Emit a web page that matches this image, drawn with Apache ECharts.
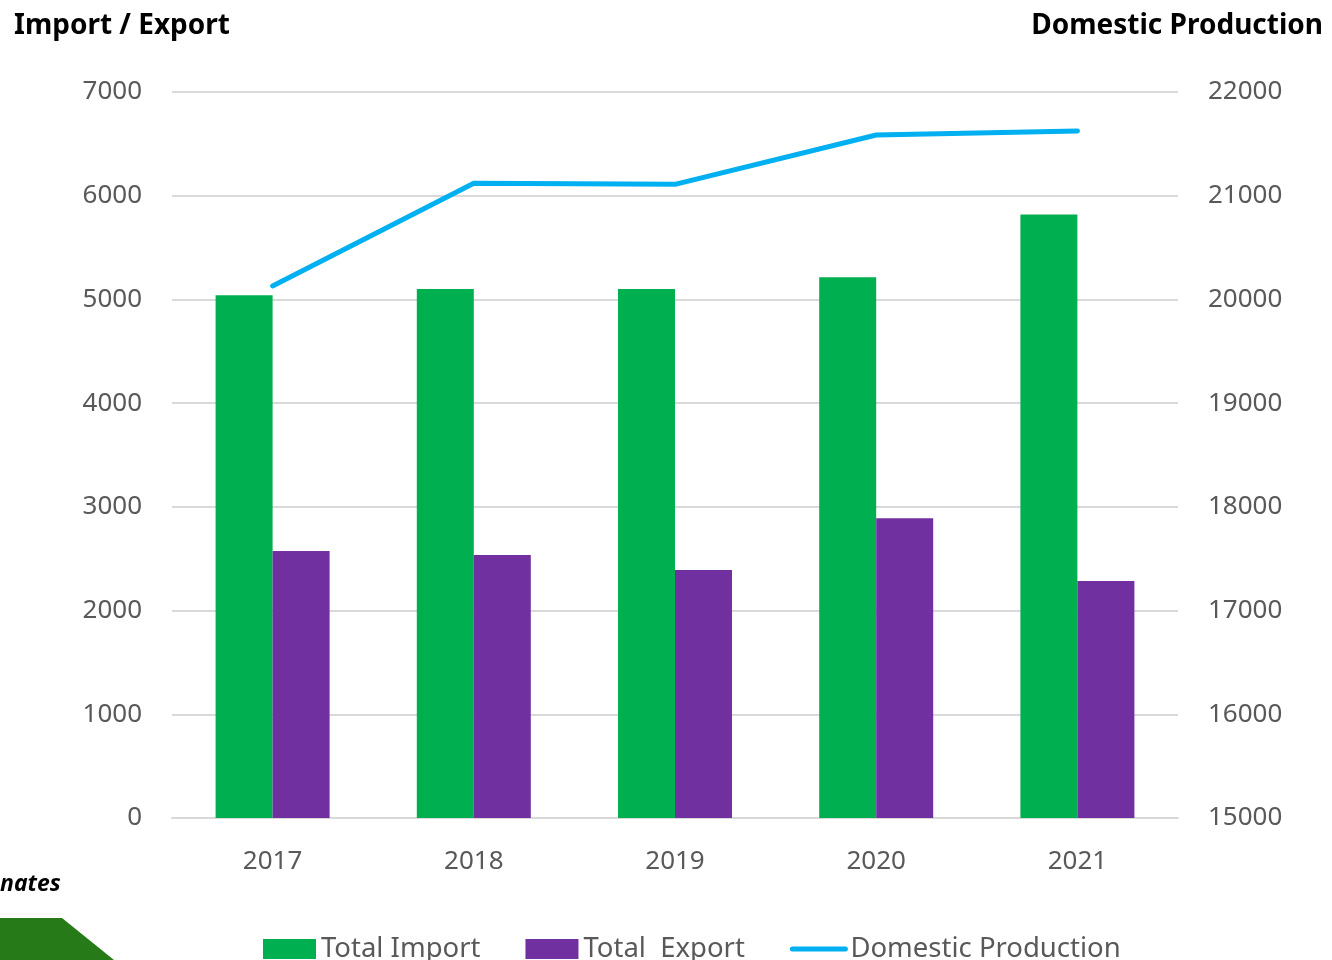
<!DOCTYPE html>
<html>
<head>
<meta charset="utf-8">
<script src="https://cdn.jsdelivr.net/npm/echarts@6/dist/echarts.min.js"></script>
<style>
  html, body { margin: 0; padding: 0; background: #fff; }
  #chart { width: 1332px; height: 960px; }
</style>
</head>
<body>
<div id="chart"></div>
<script>
// data
const years = ['2017', '2018', '2019', '2020', '2021'];
const totalImport = [5040, 5100, 5100, 5215, 5820];
const totalExport = [2575, 2535, 2390, 2890, 2285];
const domesticProduction = [20130, 21120, 21110, 21585, 21625];

const leftTicks = { min: 0, max: 7000, interval: 1000 };
const rightTicks = { min: 15000, max: 22000, interval: 1000 };

const labelFont = 'Noto Sans';
const labelColor = '#595959';

let myChart = echarts.init(document.getElementById('chart'));
let option = {
    backgroundColor: '#fff',
    animation: false,
    title: [
        {
            text: 'Import / Export',
            left: 9,
            top: 7,
            textStyle: { fontFamily: labelFont, fontSize: 28, fontWeight: 'bold', color: '#000' }
        },
        {
            text: 'Domestic Production',
            right: 4,
            top: 7,
            textStyle: { fontFamily: labelFont, fontSize: 28, fontWeight: 'bold', color: '#000' }
        }
    ],
    grid: {
        left: 172,
        right: 154,
        top: 92,
        bottom: 142,
        containLabel: false
    },
    legend: {
        left: 258,
        top: 930,
        itemWidth: 53,
        itemHeight: 20,
        itemGap: 45,
        itemTextGap: 4,
        textStyle: { fontFamily: labelFont, fontSize: 27.5, color: labelColor },
        data: [
            { name: 'Total Import', icon: 'rect' },
            { name: 'Total  Export', icon: 'rect' },
            {
                name: 'Domestic Production',
                itemStyle: { opacity: 0 },
                lineStyle: { width: 5, cap: 'round', color: '#00B0F0' }
            }
        ]
    },
    xAxis: {
        type: 'category',
        data: years,
        axisTick: { show: false },
        axisLine: { lineStyle: { color: '#D9D9D9', width: 2 } },
        axisLabel: { fontFamily: labelFont, fontSize: 26, color: labelColor, margin: 31 }
    },
    yAxis: [
        {
            type: 'value',
            min: leftTicks.min,
            max: leftTicks.max,
            interval: leftTicks.interval,
            axisLine: { show: false },
            axisTick: { show: false },
            splitLine: { lineStyle: { color: '#D9D9D9', width: 2 } },
            axisLabel: {
                fontFamily: labelFont, fontSize: 26, color: labelColor, margin: 30,
                padding: [4, 0, 0, 0],
                formatter: (v) => String(v)
            }
        },
        {
            type: 'value',
            min: rightTicks.min,
            max: rightTicks.max,
            interval: rightTicks.interval,
            axisLine: { show: false },
            axisTick: { show: false },
            splitLine: { show: false },
            axisLabel: {
                fontFamily: labelFont, fontSize: 26, color: labelColor, margin: 30,
                padding: [4, 0, 0, 0],
                formatter: (v) => String(v)
            }
        }
    ],
    series: [
        {
            name: 'Total Import',
            type: 'bar',
            barWidth: 57,
            barGap: '0%',
            itemStyle: { color: '#00B050' },
            data: totalImport
        },
        {
            name: 'Total  Export',
            type: 'bar',
            barWidth: 57,
            barGap: '0%',
            itemStyle: { color: '#7030A0' },
            data: totalExport
        },
        {
            name: 'Domestic Production',
            type: 'line',
            yAxisIndex: 1,
            symbol: 'none',
            lineStyle: { color: '#00B0F0', width: 5, cap: 'round', join: 'round' },
            itemStyle: { color: '#00B0F0' },
            data: domesticProduction
        }
    ],
    graphic: [
        {
            type: 'polygon',
            shape: { points: [[0, 918], [62, 918], [114, 960], [0, 960]] },
            style: { fill: '#267A17' }
        },
        {
            type: 'text',
            left: 0,
            top: 873,
            style: {
                text: 'nates',
                font: 'italic bold 23px "Noto Sans"',
                fill: '#000'
            }
        }
    ]
};
myChart.setOption(option);
</script>
</body>
</html>
